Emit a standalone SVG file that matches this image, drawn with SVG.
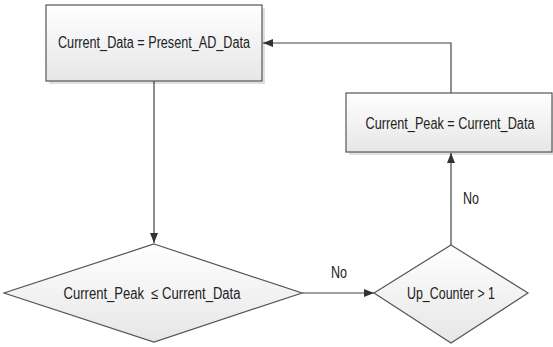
<svg xmlns="http://www.w3.org/2000/svg" width="553" height="347" viewBox="0 0 553 347">
<style>
.shape{fill:url(#g);stroke:#555;stroke-width:1.2}
.shadow{fill:#000;opacity:0.12}
.t{font-family:"Liberation Sans",Arial,sans-serif;font-size:16px;fill:#222;text-anchor:middle}
.c{fill:none;stroke:#444;stroke-width:1.2}
</style>
<defs>
<linearGradient id="g" x1="0" y1="0" x2="0" y2="1">
<stop offset="0" stop-color="#ffffff"/>
<stop offset="1" stop-color="#e6e6e6"/>
</linearGradient>
<marker id="a" markerWidth="10" markerHeight="8" refX="10" refY="4" orient="auto" markerUnits="userSpaceOnUse">
<path d="M0,0 L10,4 L0,8 Z" fill="#333"/>
</marker>
</defs>
<g id="connectors">
<path class="c" d="M154,81 V243" marker-end="url(#a)"/>
<path class="c" d="M302,293 H374" marker-end="url(#a)"/>
<path class="c" d="M451,245 V153" marker-end="url(#a)"/>
<path class="c" d="M451,93 V43 H263" marker-end="url(#a)"/>
<text class="t" x="339" y="278" textLength="16" lengthAdjust="spacingAndGlyphs">No</text>
<text class="t" x="471" y="204" textLength="16" lengthAdjust="spacingAndGlyphs">No</text>
</g>
<g id="box1">
<rect class="shadow" x="49" y="8" width="216" height="76"/>
<rect class="shape" x="46" y="5" width="216" height="76"/>
<text class="t" x="154" y="48" textLength="192" lengthAdjust="spacingAndGlyphs">Current_Data = Present_AD_Data</text>
</g>
<g id="box2">
<rect class="shadow" x="349" y="96" width="204" height="59"/>
<rect class="shape" x="346" y="93" width="206" height="59"/>
<text class="t" x="450" y="129" textLength="169" lengthAdjust="spacingAndGlyphs">Current_Peak = Current_Data</text>
</g>
<g id="decision1">
<polygon class="shape" points="154,244 302,293 154,342 4,293"/>
<text class="t" x="152" y="299" textLength="177" lengthAdjust="spacingAndGlyphs" xml:space="preserve">Current_Peak  ≤ Current_Data</text>
</g>
<g id="decision2">
<polygon class="shape" points="451,245 528,293 451,343 374,293"/>
<text class="t" x="451" y="299" textLength="88" lengthAdjust="spacingAndGlyphs">Up_Counter &gt; 1</text>
</g>
</svg>
